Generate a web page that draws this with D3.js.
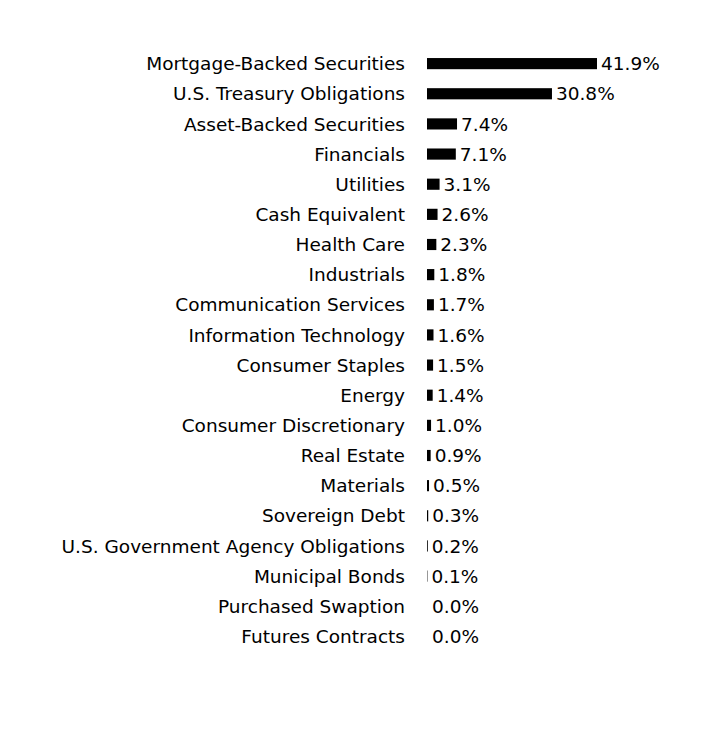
<!DOCTYPE html><html><head><script src="https://cdn.jsdelivr.net/npm/d3@7"></script>
<style>body{margin:0;background:#fff}</style></head><body><svg id="c" width="708" height="732"></svg><script>
const categories=["Mortgage-Backed Securities","U.S. Treasury Obligations","Asset-Backed Securities","Financials","Utilities","Cash Equivalent","Health Care","Industrials","Communication Services","Information Technology","Consumer Staples","Energy","Consumer Discretionary","Real Estate","Materials","Sovereign Debt","U.S. Government Agency Obligations","Municipal Bonds","Purchased Swaption","Futures Contracts"];
const values=[41.9,30.8,7.4,7.1,3.1,2.6,2.3,1.8,1.7,1.6,1.5,1.4,1.0,0.9,0.5,0.3,0.2,0.1,0.0,0.0];
const svg=d3.select("#c");
const x=d3.scaleLinear().domain([0,41.9]).range([427,597]);
const y=d3.scaleBand().domain(categories).range([49,651]).paddingInner(0.63).paddingOuter(0.3);
const font="'DejaVu Sans',sans-serif";
const g=svg.selectAll("g.r").data(categories).join("g");
g.append("rect").attr("x",x(0)).attr("y",d=>y(d)).attr("height",y.bandwidth()).attr("width",(d,i)=>x(values[i])-x(0)).attr("fill","#000");
g.append("text").attr("x",405).attr("y",d=>y(d)+y.bandwidth()/2).attr("dy","0.36em").attr("text-anchor","end").attr("font-family",font).attr("font-size",18.5).text(d=>d);
g.append("text").attr("x",(d,i)=>x(values[i])+(values[i]>0?4:5)).attr("y",d=>y(d)+y.bandwidth()/2).attr("dy","0.36em").attr("font-family",font).attr("font-size",18.5).text((d,i)=>values[i].toFixed(1)+"%");
</script></body></html>
